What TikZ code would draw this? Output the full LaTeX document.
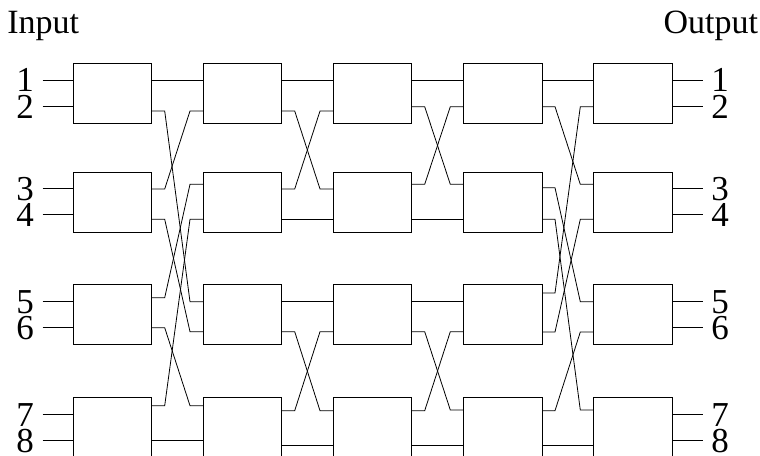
\documentclass[tikz,border=0pt]{standalone}
\usepackage{fontspec}
\setmainfont{Liberation Serif}
\newcommand\mkports[5]{%
  \coordinate (#1i1) at (#1.west |- 0,#2);
  \coordinate (#1i2) at (#1.west |- 0,#3);
  \coordinate (#1o1) at (#1.east |- 0,#4);
  \coordinate (#1o2) at (#1.east |- 0,#5);}
\tikzset{
  box/.style={draw, rectangle, anchor=north west, minimum width=78.4bp, minimum height=60bp, inner sep=0pt, line width=0.8bp},
  wire/.style={to path={-- ++(12.5,0) -- ([xshift=-13bp]\tikztotarget) -- (\tikztotarget)}},
  lbl/.style={inner sep=0pt, font=\fontsize{34bp}{36bp}\selectfont},
  num/.style={inner sep=0pt, text height=23.5bp, text depth=0bp, font=\fontsize{35bp}{36bp}\selectfont},
}
\begin{document}
\begin{tikzpicture}[x=1bp,y=-1bp,line width=0.8bp]
\useasboundingbox (0,0) rectangle (760,456);
\clip (0,0) rectangle (760,456);
\foreach \c/\x in {1/73,2/203,3/333,4/463.3,5/593.3}{
  \foreach \r/\t in {1/63.3,2/171.7,3/284,4/396.7}{
    \node[box] (b\r\c) at (\x,\t) {};
  }
}
% ports: box, in1, in2, out1, out2
\mkports{b11}{80}{106.7}{80}{111}
\mkports{b21}{188.3}{214.3}{189}{219.3}
\mkports{b31}{301.7}{327.7}{297.7}{327.7}
\mkports{b41}{414.3}{440.7}{405.7}{440.7}
\mkports{b12}{80}{111}{80}{111}
\mkports{b22}{184.3}{219.3}{189}{219.3}
\mkports{b32}{301.7}{331.7}{301.7}{331.7}
\mkports{b42}{405.7}{440.7}{410.7}{445}
\mkports{b13}{80}{111}{80}{106.7}
\mkports{b23}{189}{219.3}{184.3}{219.3}
\mkports{b33}{301.7}{331.7}{301.7}{331.7}
\mkports{b43}{410.7}{445}{410.7}{445}
\mkports{b14}{80}{106.7}{80}{106.7}
\mkports{b24}{184.3}{219.3}{187.7}{219.3}
\mkports{b34}{301.7}{331.7}{293}{332}
\mkports{b44}{410}{445}{410.7}{445}
\mkports{b15}{80}{106.7}{80}{106.7}
\mkports{b25}{184.3}{219.3}{188.3}{214.3}
\mkports{b35}{301.7}{332}{301.7}{327.7}
\mkports{b45}{410}{445}{414.3}{440.7}
% stage 1 -> 2
\draw (b11o1) -- (b12i1);
\draw (b11o2) to[wire] (b32i1);
\draw (b21o1) to[wire] (b12i2);
\draw (b21o2) to[wire] (b32i2);
\draw (b31o1) to[wire] (b22i1);
\draw (b31o2) to[wire] (b42i1);
\draw (b41o1) to[wire] (b22i2);
\draw (b41o2) -- (b42i2);
% stage 2 -> 3
\draw (b12o1) -- (b13i1);
\draw (b12o2) to[wire] (b23i1);
\draw (b22o1) to[wire] (b13i2);
\draw (b22o2) -- (b23i2);
\draw (b32o1) -- (b33i1);
\draw (b32o2) to[wire] (b43i1);
\draw (b42o1) to[wire] (b33i2);
\draw (b42o2) -- (b43i2);
% stage 3 -> 4
\draw (b13o1) -- (b14i1);
\draw (b13o2) to[wire] (b24i1);
\draw (b23o1) to[wire] (b14i2);
\draw (b23o2) -- (b24i2);
\draw (b33o1) -- (b34i1);
\draw (b33o2) to[wire] (b44i1);
\draw (b43o1) to[wire] (b34i2);
\draw (b43o2) -- (b44i2);
% stage 4 -> 5
\draw (b14o1) -- (b15i1);
\draw (b34o1) to[wire] (b15i2);
\draw (b14o2) to[wire] (b25i1);
\draw (b34o2) to[wire] (b25i2);
\draw (b24o1) to[wire] (b35i1);
\draw (b44o1) to[wire] (b35i2);
\draw (b24o2) to[wire] (b45i1);
\draw (b44o2) -- (b45i2);
% inputs and outputs
\foreach \n/\b/\p in {1/b11/1,2/b11/2,3/b21/1,4/b21/2,5/b31/1,6/b31/2,7/b41/1,8/b41/2}{
  \coordinate (ins\n) at (42.7,0 |- \b i\p);
  \draw (ins\n) -- (\b i\p);
  \node[num, anchor=east] (inl\n) at ([xshift=-8.5bp]ins\n) {\n};
}
\foreach \n/\b/\p in {1/b15/1,2/b15/2,3/b25/1,4/b25/2,5/b35/1,6/b35/2,7/b45/1,8/b45/2}{
  \coordinate (outs\n) at (702.5,0 |- \b o\p);
  \draw (\b o\p) -- (outs\n);
  \node[num, anchor=west] (outl\n) at ([xshift=8.5bp]outs\n) {\n};
}
\node[lbl, anchor=base west] (intitle) at (7,33.3) {Input};
\node[lbl, anchor=base east] (outtitle) at (758.5,33.3) {Output};
\end{tikzpicture}
\end{document}
